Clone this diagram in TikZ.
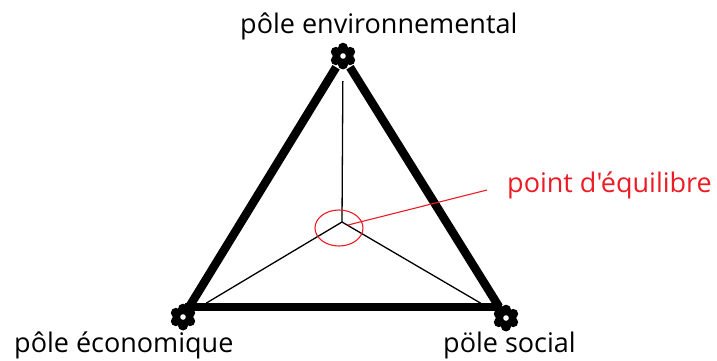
\documentclass[tikz,border=0pt]{standalone}
\usepackage{fontspec}
\setmainfont{Open Sans}[Ligatures=TeXOff]
\usetikzlibrary{calc,shapes.geometric}
\definecolor{pred}{RGB}{237,28,36}
\tikzset{
  lbl/.style={inner sep=0pt, font=\fontsize{27}{30}\selectfont, anchor=base west},
  thick edge/.style={line width=8.5pt, black},
  thin edge/.style={line width=1.3pt, black},
  vtx/.style={circle, inner sep=0pt, minimum size=26pt},
}
\begin{document}
\begin{tikzpicture}[x=1pt,y=-1pt]
\useasboundingbox (0,0) rectangle (717,360);
% vertices
\node[vtx] (T) at (343,56) {};
\node[vtx] (L) at (183,317) {};
\node[vtx] (R) at (506,318) {};
\coordinate (C) at (342,222);
% inner lines
\draw[thin edge, shorten >=12pt] (C) -- (T);
\draw[thin edge, shorten >=14pt] (C) -- (L);
\draw[thin edge, shorten >=16pt] (C) -- (R);
% thick triangle
\draw[thick edge] (T) -- (L);
\draw[thick edge] (T) -- (R);
\coordinate (LB) at ($(L)+(2,-10)$);
\coordinate (RB) at ($(R)+(-4,-11)$);
\draw[thick edge] (LB) -- (RB);
% flower markers
\foreach \n in {T,L,R}{
  \foreach \a in {90,150,...,450}
    \fill[black] ($(\n)+(\a:8.3)$) circle (5);
  \fill[black] (\n) circle (8.5);
  \fill[white] (\n) circle (2.8);
}
% labels
\node[lbl] (top) at (240,33) {pôle environnemental};
\node[lbl] (eco) at (14,352) {pôle économique};
\node[lbl] (soc) at (443,352) {pöle social};
\node[lbl, text=pred] (P) at (507,192) {point d'équilibre};
% equilibrium marker
\node[ellipse, draw=pred, line width=1.1pt, minimum width=48pt, minimum height=36pt, inner sep=0pt] (E) at (339,228) {};
\coordinate (Pin) at (348,225);
\coordinate (Pend) at (487,190);
\draw[pred, line width=1.1pt] (Pin) -- (Pend);
\end{tikzpicture}
\end{document}
